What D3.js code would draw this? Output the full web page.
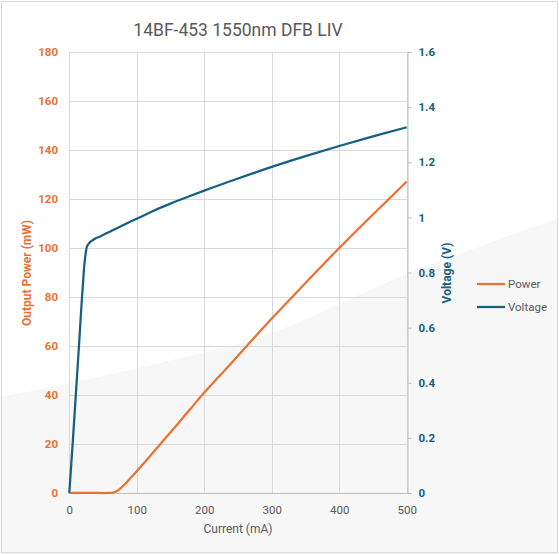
<!DOCTYPE html>
<html lang="en">
<head>
<meta charset="utf-8">
<title>14BF-453 1550nm DFB LIV</title>
<script src="https://d3js.org/d3.v7.min.js"></script>
<style>
  body { margin: 0; background: #fff; }
  svg { display: block; font-family: Roboto, "Open Sans", sans-serif; }
</style>
</head>
<body>
<svg width="559" height="554"></svg>
<script>
// current (mA) samples for the power curve
var powerCurrent = [0, 10, 20, 30, 40, 50, 60, 65, 70, 75, 80, 90, 100, 120, 140, 160, 180, 200, 220, 240, 260, 280, 300, 350, 400, 450, 500];
var powerValues  = [0, 0.05, 0.1, 0.1, 0.05, 0, 0.05, 0.2, 0.7, 1.7, 3.0, 5.9, 8.9, 15.2, 21.6, 28.0, 34.5, 41.0, 47.0, 53.0, 59.1, 65.2, 71.2, 85.7, 100.0, 113.7, 127.1];

// current (mA) samples for the voltage curve
var voltCurrent = [0, 5, 10, 15, 18, 20, 22, 24, 26, 30, 35, 40, 45, 50, 60, 70, 80, 90, 100, 125, 150, 175, 200, 250, 300, 350, 400, 450, 500];
var voltValues  = [0, 0.18, 0.37, 0.56, 0.68, 0.75, 0.82, 0.865, 0.893, 0.908, 0.918, 0.925, 0.93, 0.936, 0.948, 0.96, 0.972, 0.984, 0.995, 1.024, 1.05, 1.074, 1.097, 1.141, 1.183, 1.222, 1.259, 1.294, 1.327];

var xTicks = [0, 100, 200, 300, 400, 500];
var powerTicks = [0, 20, 40, 60, 80, 100, 120, 140, 160, 180];
var voltTicks = [0, 0.2, 0.4, 0.6, 0.8, 1, 1.2, 1.4, 1.6];
var seriesNames = ["Power", "Voltage"];

var orange = "#e97132", blue = "#156082", grey = "#595959";

var svg = d3.select("svg");

// soft grey background swoosh
svg.append("path")
  .attr("d", d3.line().curve(d3.curveMonotoneX)([[0, 397], [160, 363], [260, 337], [407, 274], [559, 218]]) + "L559,554L0,554Z")
  .attr("fill", "#f7f7f7");

svg.append("rect")
  .attr("x", 1.5).attr("y", 1.5).attr("width", 556).attr("height", 551)
  .attr("fill", "none").attr("stroke", "#d9d9d9");

var x = d3.scaleLinear().domain([0, 500]).range([69.3, 406.7]);
var yP = d3.scaleLinear().domain([0, 180]).range([493, 52]);
var yV = d3.scaleLinear().domain([0, 1.6]).range([493, 52]);

// gridlines
svg.append("g").selectAll("line").data(powerTicks).join("line")
  .attr("x1", x(0)).attr("x2", x(500))
  .attr("y1", d => Math.round(yP(d)) + 0.5).attr("y2", d => Math.round(yP(d)) + 0.5)
  .attr("stroke", "#d9d9d9");
svg.append("g").selectAll("line").data(xTicks).join("line")
  .attr("x1", d => Math.round(x(d)) + 0.5).attr("x2", d => Math.round(x(d)) + 0.5)
  .attr("y1", yP(180)).attr("y2", yP(0))
  .attr("stroke", "#d9d9d9");

// left axis labels
svg.append("g").selectAll("text").data(powerTicks).join("text")
  .attr("x", 58).attr("y", d => yP(d)).attr("dy", "0.35em")
  .attr("text-anchor", "end").attr("font-size", 11.5).attr("font-weight", "bold")
  .attr("fill", orange).text(d => d);

// right axis
var rightAxis = svg.append("g").attr("transform", "translate(" + (Math.round(x(500)) + 0.5) + ",0)")
  .call(d3.axisRight(yV).tickValues(voltTicks).tickSize(4).tickPadding(7).tickFormat(d3.format("~g")));
rightAxis.select(".domain").attr("stroke", "#bfbfbf");
rightAxis.selectAll(".tick line").attr("stroke", "#bfbfbf");
rightAxis.selectAll(".tick text").attr("fill", blue).attr("font-size", 11.5)
  .attr("font-weight", "bold").attr("font-family", "Roboto, sans-serif");

// bottom axis
var bottomAxis = svg.append("g").attr("transform", "translate(0," + (Math.round(yP(0)) + 0.5) + ")")
  .call(d3.axisBottom(x).tickValues(xTicks).tickSize(0).tickPadding(12).tickSizeOuter(0));
bottomAxis.select(".domain").attr("stroke", "#bfbfbf").attr("d", "M" + x(0) + ",0H" + (x(500) + 2));
bottomAxis.selectAll(".tick text").attr("fill", grey).attr("font-size", 11.5)
  .attr("font-family", "Roboto, sans-serif");

// series
var powerData = powerCurrent.map((c, i) => [c, powerValues[i]]);
var voltData = voltCurrent.map((c, i) => [c, voltValues[i]]);

svg.append("path").datum(powerData)
  .attr("d", d3.line().x(d => x(d[0])).y(d => yP(d[1])).curve(d3.curveMonotoneX))
  .attr("fill", "none").attr("stroke", orange).attr("stroke-width", 2.25).attr("stroke-linejoin", "round");
svg.append("path").datum(voltData)
  .attr("d", d3.line().x(d => x(d[0])).y(d => yV(d[1])).curve(d3.curveMonotoneX))
  .attr("fill", "none").attr("stroke", blue).attr("stroke-width", 2.25).attr("stroke-linejoin", "round");

// titles
svg.append("text").attr("x", 238).attr("y", 30).attr("dy", "0.35em")
  .attr("text-anchor", "middle").attr("font-size", 17.5).attr("fill", grey)
  .text("14BF-453 1550nm DFB LIV");
svg.append("text").attr("x", 238).attr("y", 529).attr("dy", "0.35em")
  .attr("text-anchor", "middle").attr("font-size", 12).attr("fill", grey)
  .text("Current (mA)");
svg.append("text").attr("transform", "translate(27,273) rotate(-90)").attr("dy", "0.35em")
  .attr("text-anchor", "middle").attr("font-size", 12).attr("font-weight", "bold").attr("fill", orange)
  .text("Output Power (mW)");
svg.append("text").attr("transform", "translate(447,273) rotate(-90)").attr("dy", "0.35em")
  .attr("text-anchor", "middle").attr("font-size", 12).attr("font-weight", "bold").attr("fill", blue)
  .text("Voltage (V)");

// legend
var legend = svg.append("g").selectAll("g").data(seriesNames).join("g")
  .attr("transform", (d, i) => "translate(477," + (284 + i * 23) + ")");
legend.append("line").attr("x1", 0).attr("x2", 28)
  .attr("stroke", (d, i) => i ? blue : orange).attr("stroke-width", 2.25);
legend.append("text").attr("x", 31).attr("dy", "0.35em")
  .attr("font-size", 11.5).attr("fill", grey).text(d => d);
</script>
</body>
</html>
